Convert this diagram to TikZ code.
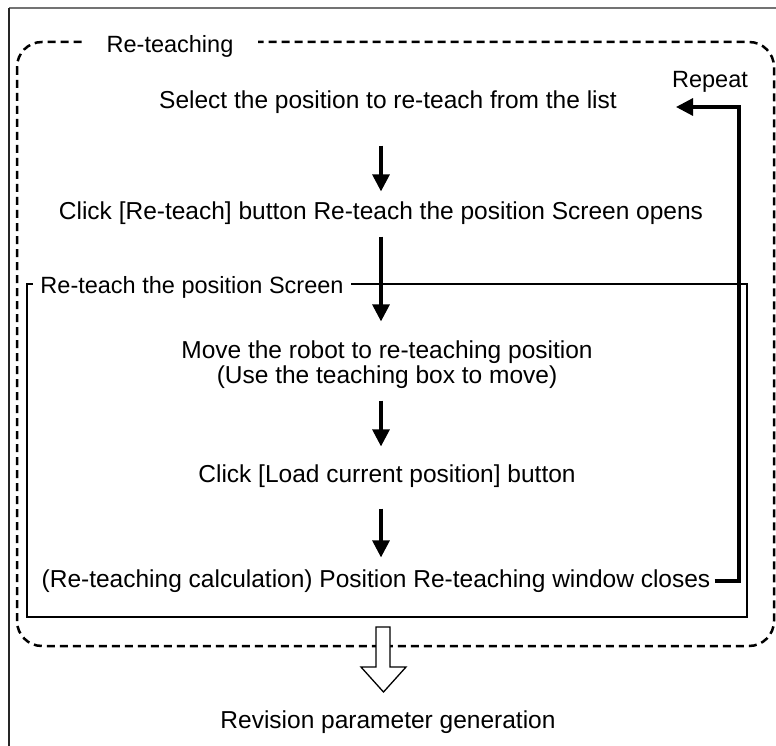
\documentclass[tikz,border=0pt]{standalone}
\usepackage{fontspec}
\setmainfont{Liberation Sans}
\usetikzlibrary{arrows.meta,calc}
\begin{document}
\begin{tikzpicture}[x=1pt,y=-1pt,
  txt/.style={font=\fontsize{24.5}{25}\selectfont, inner sep=0pt, align=center},
  lbl/.style={font=\fontsize{23.5}{25}\selectfont, inner sep=0pt, fill=white, inner ysep=2pt},
  flow/.style={line width=3.2pt, -{Triangle[width=17pt,length=17pt]}},
  dashbox/.style={line width=2.5pt, dash pattern=on 8pt off 5pt, rounded corners=25pt},
  framebox/.style={line width=1.3pt},
  hollow/.style={line width=1.3pt, fill=white}]
\useasboundingbox (0,0) rectangle (776,746);
% outer frame (top and left only)
\draw[black!55, line width=1.2pt] (776,8) -- (9,8);
\draw[black!85, line width=1.4pt] (9,8) -- (9,746);
% dashed group
\draw[dashbox] (17,42) rectangle (774,646);
\node[lbl, inner xsep=25pt] (grp) at (170,46) {Re-teaching};
% screen frame
\draw[framebox] (27,284) rectangle (747,617);
\node[lbl, inner xsep=7pt] (scr) at (192,287) {Re-teach the position Screen};
% steps
\node[txt] (n1) at (388,102) {Select the position to re-teach from the list};
\node[txt] (n2) at (381,213) {Click [Re-teach] button Re-teach the position Screen opens};
\node[txt] (n3) at (387,364.5) {Move the robot to re-teaching position\\(Use the teaching box to move)};
\node[txt] (n4) at (387,476) {Click [Load current position] button};
\node[txt] (n5) at (376,581) {(Re-teaching calculation) Position Re-teaching window closes};
\node[txt] (n6) at (388,722) {Revision parameter generation};
\node[lbl, fill=none] (rep) at (710,82) {Repeat};
% arrow axis
\coordinate (ax) at (381,0);
\draw[flow, shorten <=32pt, shorten >=10pt] (n1.south -| ax) -- (n2.north -| ax);
\draw[flow, shorten <=12pt, shorten >=19pt] (n2.south -| ax) -- (n3.north -| ax);
\draw[flow, shorten <=12pt, shorten >=18pt] (n3.south -| ax) -- (n4.north -| ax);
\draw[flow, shorten <=21pt, shorten >=12pt] (n4.south -| ax) -- (n5.north -| ax);
% repeat loop
\coordinate (rtop) at (739,107);
\coordinate (rend) at (676,107);
\draw[flow, shorten <=4pt] (n5.east) -- (n5.east -| rtop) -- (rtop) -- (rend);
% hollow arrow to result
\draw[hollow] (376,627) -- (390,627) -- (390,667) -- (406,667) -- (383.5,692)
  -- (361,667) -- (376,667) -- cycle;
\end{tikzpicture}
\end{document}
